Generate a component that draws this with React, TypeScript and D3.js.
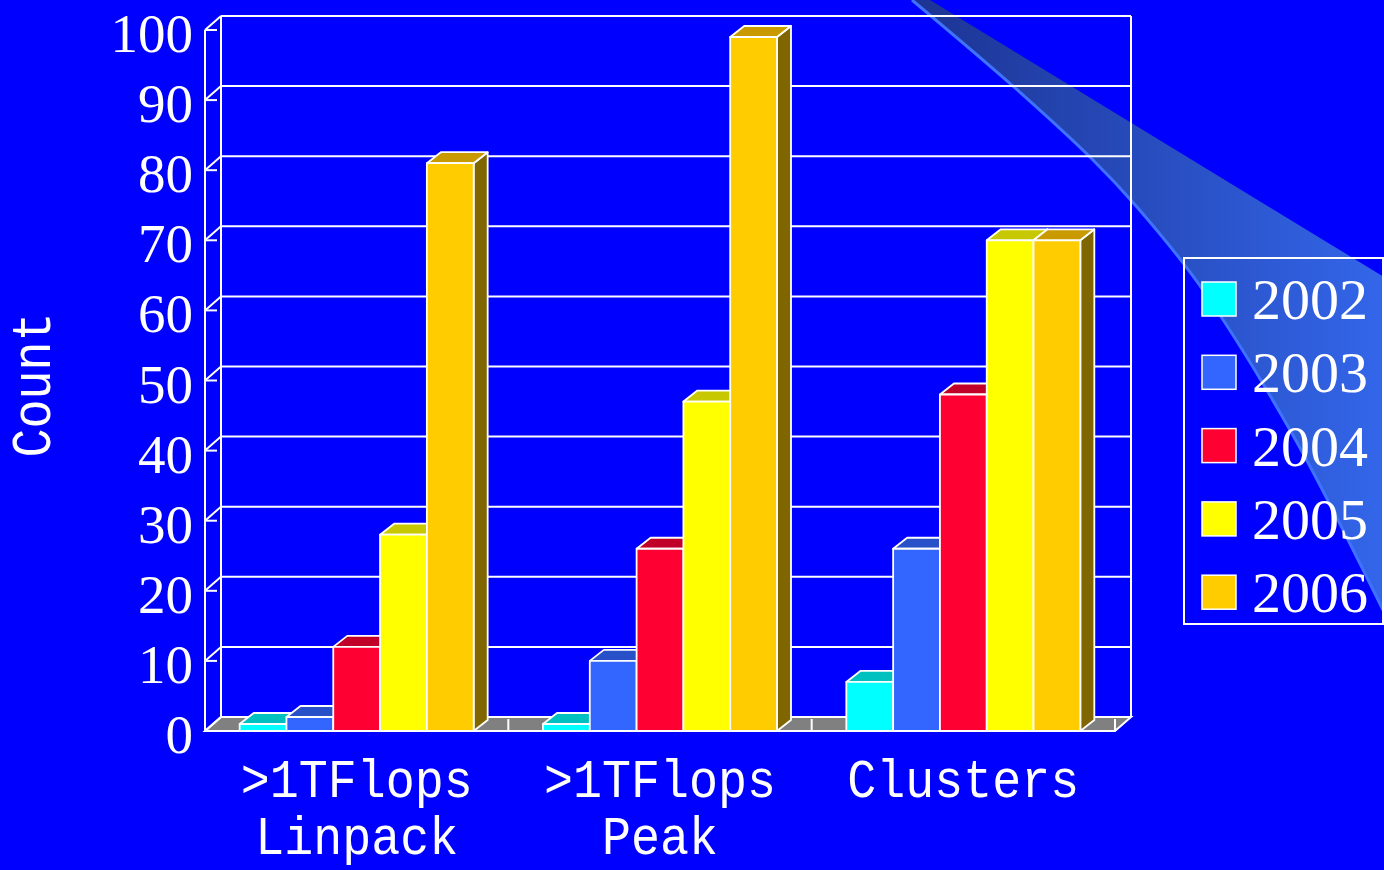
import React from 'react';
import * as d3 from 'd3';

const categoryLines: string[][] = [['>1TFlops', 'Linpack'], ['>1TFlops', 'Peak'], ['Clusters']];
const categories = ['Linpack', 'Peak', 'Clusters'];
const years = ['2002', '2003', '2004', '2005', '2006'];
const s2002 = [1, 1, 7];
const s2003 = [2, 10, 26];
const s2004 = [12, 26, 48];
const s2005 = [28, 47, 70];
const s2006 = [81, 99, 70];
const seriesValues = [s2002, s2003, s2004, s2005, s2006];
const frontColors = ['#00FFFF', '#3366FF', '#FF0033', '#FFFF00', '#FFCC00'];
const topColors = ['#00C0C0', '#2850C8', '#C00028', '#C8C800', '#C89A00'];
const sideColors = ['#008080', '#1A3380', '#800019', '#808000', '#806600'];
const yTicks = [0, 10, 20, 30, 40, 50, 60, 70, 80, 90, 100];

const W = 1384, H = 870;
const X0 = 205, X1 = 1115;
const DX = 16, DY = -14;
const BDX = 14, BDY = -11;

export default function App() {
  const y = d3.scaleLinear().domain([0, 100]).range([731, 30]);
  const xCat = d3.scaleBand<string>().domain(categories).range([X0, X1]).paddingInner(0.2286).paddingOuter(0.1143);
  const xYear = d3.scaleBand<string>().domain(years).range([0, xCat.bandwidth()]).padding(0);
  const step = (X1 - X0) / categories.length;
  const base = y(0);

  const leftEdge: [number, number][] = [[912, 0], [1014, 87], [1093, 160], [1137, 207], [1198, 283], [1290, 430], [1384, 612]];
  const curve = d3.line().curve(d3.curveCatmullRom)(leftEdge) as string;
  const beamPath = curve + ' L1384,277 L930,0 Z';

  const pts = (a: number[][]) => a.map(p => p.join(',')).join(' ');

  return (
    <svg width={W} height={H} style={{ position: 'absolute', left: 0, top: 0, display: 'block' }}>
      <defs>
        <linearGradient id="beam" gradientUnits="userSpaceOnUse" x1={912} y1={0} x2={1384} y2={0}>
          <stop offset="0" stopColor="#1c3392" />
          <stop offset="1" stopColor="#3366ea" />
        </linearGradient>
      </defs>
      <rect x={0} y={0} width={W} height={H} fill="#0000FF" />
      <path d={beamPath} fill="url(#beam)" />
      <path d={curve} fill="none" stroke="#3f72ff" strokeWidth={3} />

      {/* back wall gridlines */}
      {yTicks.map(t => (
        <line key={'g' + t} x1={X0 + DX} x2={X1 + DX} y1={y(t) + DY} y2={y(t) + DY} stroke="#fff" strokeWidth={2} />
      ))}
      <line x1={X0 + DX} x2={X0 + DX} y1={y(100) + DY} y2={base + DY} stroke="#fff" strokeWidth={2} />
      <line x1={X1 + DX} x2={X1 + DX} y1={y(100) + DY} y2={base + DY} stroke="#fff" strokeWidth={2} />

      {/* floor */}
      <polygon points={pts([[X0, base], [X1, base], [X1 + DX, base + DY], [X0 + DX, base + DY]])} fill="#808080" stroke="#fff" strokeWidth={2} />
      {[1, 2, 3].map(k => (
        <line key={'f' + k} x1={X0 + k * step} x2={X0 + k * step} y1={base} y2={base - 12} stroke="#fff" strokeWidth={2} />
      ))}

      {/* left side wall ticks */}
      {yTicks.map(t => (
        <g key={'t' + t}>
          <line x1={X0} y1={y(t)} x2={X0 + DX} y2={y(t) + DY} stroke="#fff" strokeWidth={2} />
          <line x1={X0} y1={y(t)} x2={X0 + 12} y2={y(t)} stroke="#fff" strokeWidth={2} />
        </g>
      ))}
      <line x1={X0} x2={X0} y1={y(100)} y2={base} stroke="#fff" strokeWidth={2} />

      {/* bars */}
      {categories.map((c, ci) => (
        <g key={c}>
          {years.map((yr, si) => {
            const v = seriesValues[si][ci];
            const x = (xCat(c) as number) + (xYear(yr) as number);
            const w = xYear.bandwidth();
            const yv = y(v);
            return (
              <g key={yr} stroke="#fff" strokeWidth={1.8} strokeLinejoin="round">
                <polygon points={pts([[x + w, yv], [x + w + BDX, yv + BDY], [x + w + BDX, base + BDY], [x + w, base]])} fill={sideColors[si]} />
                <polygon points={pts([[x, yv], [x + BDX, yv + BDY], [x + w + BDX, yv + BDY], [x + w, yv]])} fill={topColors[si]} />
                <rect x={x} y={yv} width={w} height={base - yv} fill={frontColors[si]} />
              </g>
            );
          })}
        </g>
      ))}
      <line x1={X0} x2={X1} y1={base} y2={base} stroke="#fff" strokeWidth={2} />

      {/* y tick labels */}
      {yTicks.map(t => (
        <text key={'l' + t} x={193} y={y(t) + 22} textAnchor="end" fill="#fff" fontFamily="'Liberation Serif', serif" fontSize={55}>{t}</text>
      ))}

      {/* category labels */}
      {categories.map((c, ci) => {
        const cx = (xCat(c) as number) + xCat.bandwidth() / 2;
        return categoryLines[ci].map((ln, li) => (
          <text key={c + li} x={cx} y={797 + li * 57} textAnchor="middle" fill="#fff"
            fontFamily="'Liberation Mono', monospace" fontSize={54} fontWeight={300}
            textLength={ln.length * 29} lengthAdjust="spacingAndGlyphs">{ln}</text>
        ));
      })}

      {/* axis title */}
      <text transform="translate(50,385) rotate(-90)" textAnchor="middle" fill="#fff"
        fontFamily="'Liberation Mono', monospace" fontSize={56} textLength={145} lengthAdjust="spacingAndGlyphs">Count</text>

      {/* legend */}
      <rect x={1184} y={258} width={199} height={366} fill="none" stroke="#fff" strokeWidth={2} />
      {years.map((yr, i) => (
        <g key={'lg' + yr}>
          <rect x={1202} y={282 + i * 73.3} width={34} height={34} fill={frontColors[i]} stroke="#fff" strokeWidth={1.5} />
          <text x={1252} y={319 + i * 73.3} fill="#fff" fontFamily="'Liberation Serif', serif" fontSize={58}>{yr}</text>
        </g>
      ))}
    </svg>
  );
}
